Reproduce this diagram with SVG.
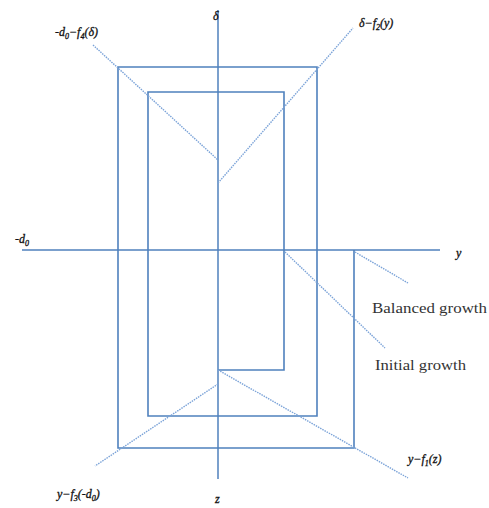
<svg xmlns="http://www.w3.org/2000/svg" width="489" height="508" viewBox="0 0 489 508">
<style>
.ax{stroke:#4f81bd;stroke-width:1.5;fill:none}
.sp{stroke:#4f81bd;stroke-width:1.6;fill:none;stroke-linejoin:miter}
.dl{stroke:#7ba3d8;stroke-width:1.4;stroke-dasharray:1.5 1;fill:none}
.m{font-family:"Liberation Serif","DejaVu Serif",serif;font-style:italic;font-size:12px;fill:#111;stroke:#111;stroke-width:0.3}
.t{font-family:"Liberation Serif","DejaVu Serif",serif;font-size:14px;fill:#333}
</style>
<rect width="489" height="508" fill="#fff"/>
<g id="axes">
<line class="ax" x1="218" y1="10" x2="218" y2="479"/>
<line class="ax" x1="22" y1="250" x2="440" y2="250"/>
</g>
<g id="spiral">
<path class="sp" d="M218,370 H284 V92 H148 V416 H317 V67 H118 V448 H354 V250"/>
</g>
<g id="connectors">
<line class="dl" x1="93" y1="45" x2="218" y2="160"/>
<line class="dl" x1="218" y1="183" x2="353" y2="28"/>
<line class="dl" x1="355" y1="252" x2="408" y2="283"/>
<line class="dl" x1="285" y1="252" x2="385" y2="348"/>
<line class="dl" x1="218" y1="370" x2="408" y2="478"/>
<line class="dl" x1="218" y1="384" x2="95" y2="466"/>
</g>
<g id="labels">
<text class="m" x="213" y="20">δ</text>
<text class="m" x="55" y="36">-d<tspan font-size="8" dy="3">0</tspan><tspan dy="-3">−f</tspan><tspan font-size="8" dy="3">4</tspan><tspan dy="-3">(δ)</tspan></text>
<text class="m" x="359" y="27">δ−f<tspan font-size="8" dy="3">2</tspan><tspan dy="-3">(y)</tspan></text>
<text class="m" x="15" y="243">-d<tspan font-size="8" dy="3">0</tspan></text>
<text class="m" x="456" y="257">y</text>
<text class="t" x="372" y="313" textLength="115" lengthAdjust="spacingAndGlyphs">Balanced growth</text>
<text class="t" x="375" y="370" textLength="91" lengthAdjust="spacingAndGlyphs">Initial growth</text>
<text class="m" x="408" y="463">y−f<tspan font-size="8" dy="3">1</tspan><tspan dy="-3">(z)</tspan></text>
<text class="m" x="57" y="498">y−f<tspan font-size="8" dy="3">3</tspan><tspan dy="-3">(-d</tspan><tspan font-size="8" dy="3">0</tspan><tspan dy="-3">)</tspan></text>
<text class="m" x="215" y="503">z</text>
</g>
</svg>
